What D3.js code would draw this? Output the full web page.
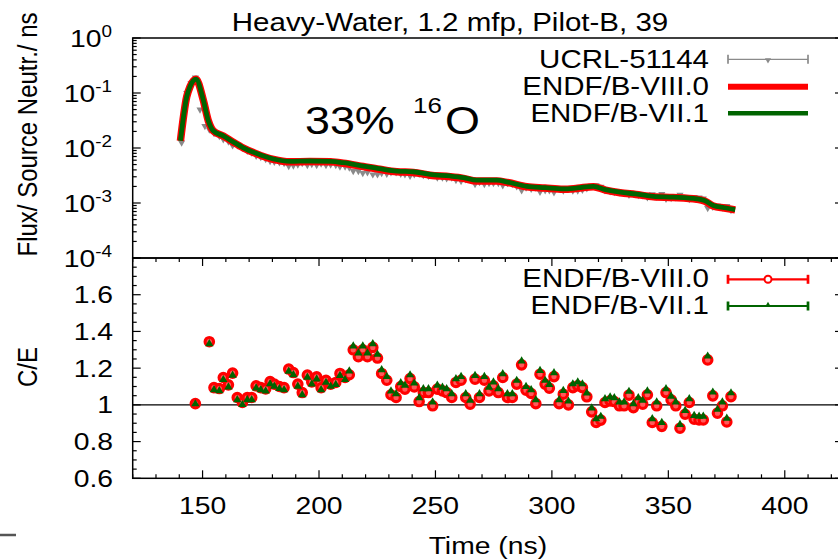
<!DOCTYPE html>
<html>
<head>
<meta charset="utf-8">
<script src="https://cdn.jsdelivr.net/npm/d3@7"></script>
<style>
  body { margin: 0; background: #fff; }
  svg { display: block; }
  text { font-family: "Liberation Sans", Arial, Helvetica, sans-serif; fill: #000; }
</style>
</head>
<body>
<svg id="chart" width="838" height="560"></svg>
<script>
// ---- calculated flux per source neutron (ns^-1) ----
const calcTime = [140.5,143.2,144.6,147.2,150.3,152.5,154.6,158.9,163.0,167.5,173.0,180.4,187.6,196.0,205.0,210.4,219.0,226.0,233.4,240.5,247.7,256.3,262.0,267.7,276.3,281.0,289.2,297.0,304.9,311.0,317.8,323.0,329.3,336.0,343.6,352.0,362.2,365.5,369.3,374.0,378.7];
const fluxVIII = [0.0135,0.0857,0.130,0.177,0.0746,0.031,0.0205,0.0165,0.0129,0.0100,0.0079,0.0062,0.0056,0.0057,0.0056,0.0053,0.0046,0.0041,0.0037,0.0036,0.0032,0.0030,0.0028,0.0025,0.0025,0.00236,0.00198,0.00187,0.00177,0.00185,0.00198,0.00172,0.00154,0.00143,0.00130,0.00126,0.00117,0.00109,0.00088,0.00081,0.00075];
const fluxVII  = [0.0135,0.0860,0.131,0.178,0.0750,0.031,0.0206,0.0166,0.0130,0.0101,0.0080,0.0063,0.0057,0.0058,0.0057,0.0054,0.0047,0.0042,0.0038,0.0037,0.0033,0.0031,0.0029,0.0026,0.0026,0.00240,0.00201,0.00190,0.00180,0.00188,0.00201,0.00175,0.00157,0.00146,0.00132,0.00128,0.00119,0.00111,0.00090,0.00082,0.00076];

// ---- UCRL-51144 measurement ----
const expTime = [141.0,143.2,145.0,146.9,148.9,151.0,152.9,154.9,157.2,158.9,161.1,162.9,164.9,167.1,169.2,171.1,173.0,175.0,177.1,179.0,180.8,183.0,185.0,187.0,189.0,190.9,192.8,195.0,196.9,199.0,200.9,203.0,205.0,207.2,209.0,211.2,213.0,214.7,216.9,218.8,220.8,223.1,225.1,226.9,229.1,230.9,233.1,235.1,236.9,239.1,240.9,243.0,244.8,247.0,248.8,250.8,253.0,254.8,257.0,258.8,261.0,263.0,264.9,267.0,268.9,271.0,273.0,274.9,277.0,278.9,280.9,283.0,284.9,287.0,288.9,291.1,293.1,294.9,297.1,298.9,300.9,303.1,304.9,307.1,309.0,311.1,313.1,315.0,317.1,319.0,321.0,322.8,325.0,326.8,329.0,331.0,333.1,335.0,337.1,339.0,341.0,343.1,345.0,347.2,349.0,351.2,353.2,355.0,357.2,359.0,361.1,363.2,365.0,366.9,369.1,371.1,373.2,375.1,376.9];
const expFlux = [0.0125,0.100,0.150,0.190,0.050,0.025,0.0216,
  0.0187,0.0165,0.0144,0.0131,0.0111,0.0112,0.0101,0.0089,0.0082,0.0072,
  0.0068,0.0063,0.0058,0.0056,0.0055,0.0053,0.0047,0.0048,0.0050,0.0053,
  0.0049,0.0051,0.0049,0.0052,0.0049,0.0050,0.0049,0.0046,0.0046,0.0044,
  0.0038,0.0038,0.0035,0.0036,0.0033,0.0033,0.0035,0.0034,0.0036,0.0036,
  0.0034,0.0033,0.0031,0.0033,0.0034,0.0032,0.0031,0.0032,0.0029,0.0029,
  0.0028,0.0029,0.0026,0.0025,0.0027,0.0027,0.0022,0.0024,0.0022,0.0023,
  0.0023,0.0023,0.0021,0.0023,0.0022,0.0020,0.0017,0.0019,0.0018,0.0019,
  0.0016,0.0017,0.0017,0.00156,0.0018,0.00167,0.0018,0.00167,0.00168,0.00174,
  0.00185,0.00205,0.0021,0.00196,0.0017,0.00162,0.00157,0.00156,0.00151,0.0014,
  0.00146,0.00139,0.00137,0.00127,0.00144,0.0013,0.00145,0.00119,0.00123,0.00126,
  0.00141,0.00128,0.00118,0.00128,0.00125,0.0012,0.00081,0.00085,0.00089,0.00082,
  0.00088,0.00074];
const expRelErr = 0.05;

// ---- C/E ratios ----
const ceTime = [146.9,152.9,154.9,157.2,158.9,161.1,162.9,164.9,167.1,169.2,
  171.1,173.0,175.0,177.1,179.0,180.8,183.0,185.0,187.0,189.0,
  190.9,192.8,195.0,196.9,199.0,200.9,203.0,205.0,207.2,209.0,
  211.2,213.0,214.7,216.9,218.8,220.8,223.1,225.1,226.9,229.1,
  230.9,233.1,235.1,236.9,239.1,240.9,243.0,244.8,247.0,248.8,
  250.8,253.0,254.8,257.0,258.8,261.0,263.0,264.9,267.0,268.9,
  271.0,273.0,274.9,277.0,278.9,280.9,283.0,284.9,287.0,288.9,
  291.1,293.1,294.9,297.1,298.9,300.9,303.1,304.9,307.1,309.0,
  311.1,313.1,315.0,317.1,319.0,321.0,322.8,325.0,326.8,329.0,
  331.0,333.1,335.0,337.1,339.0,341.0,343.1,345.0,347.2,349.0,
  351.2,353.2,355.0,357.2,359.0,361.1,363.2,365.0,366.9,369.1,
  371.1,373.2,375.1,376.9];
const ceVIII = [1.007,1.344,1.094,1.089,1.149,1.109,1.173,1.040,1.013,1.040,
  1.040,1.104,1.094,1.087,1.127,1.113,1.100,1.094,1.195,1.176,
  1.113,1.067,1.162,1.125,1.153,1.094,1.134,1.113,1.122,1.171,
  1.149,1.164,1.300,1.262,1.300,1.262,1.313,1.255,1.171,1.134,
  1.055,1.040,1.100,1.086,1.143,1.098,1.018,1.067,1.067,0.995,
  1.086,1.076,1.067,1.040,1.122,1.134,1.040,1.004,1.140,1.040,
  1.134,1.076,1.104,1.067,1.149,1.040,1.040,1.113,1.218,1.080,
  1.062,1.007,1.167,1.113,1.091,1.154,1.007,1.058,1.000,1.094,
  1.104,1.094,1.044,0.962,0.904,0.917,1.013,1.022,1.018,0.995,
  0.995,1.053,0.985,1.018,1.004,1.055,0.904,0.995,0.883,1.067,
  1.027,0.995,0.873,0.949,1.013,0.922,0.918,0.918,1.245,1.049,
  0.955,0.995,0.907,1.045];
const ceVII = [1.005,1.332,1.082,1.077,1.137,1.097,1.161,1.028,1.001,1.028,
  1.028,1.092,1.082,1.075,1.115,1.101,1.088,1.082,1.183,1.164,
  1.101,1.055,1.150,1.113,1.141,1.082,1.122,1.101,1.110,1.159,
  1.137,1.184,1.320,1.282,1.320,1.282,1.333,1.275,1.191,1.154,
  1.075,1.060,1.120,1.106,1.163,1.118,1.038,1.087,1.087,1.015,
  1.106,1.096,1.087,1.060,1.142,1.154,1.060,1.024,1.160,1.060,
  1.154,1.096,1.124,1.087,1.169,1.060,1.060,1.133,1.238,1.100,
  1.082,1.027,1.187,1.133,1.111,1.174,1.027,1.078,1.020,1.114,
  1.124,1.114,1.064,0.982,0.924,0.937,1.033,1.042,1.038,1.015,
  1.015,1.073,1.005,1.038,1.024,1.075,0.924,1.015,0.903,1.087,
  1.047,1.015,0.893,0.969,1.033,0.942,0.938,0.938,1.265,1.069,
  0.975,1.015,0.927,1.065];

// ---- axis ticks ----
const xMajor = [150,200,250,300,350,400];
const xMinorStep = 10;
const fluxDecades = [-4,-3,-2,-1,0];
const ceMajor = [0.6,0.8,1.0,1.2,1.4,1.6];
const ceLabels = ["0.6","0.8","1","1.2","1.4","1.6"];

const titleText = "Heavy-Water, 1.2 mfp, Pilot-B, 39";
const seriesNames = ["UCRL-51144","ENDF/B-VIII.0","ENDF/B-VII.1"];

// ---- layout ----
const L = 132.7, R = 843, T = 38, MID = 258, B = 478.3;
const SX = 1.18;           // horizontal glyph stretch
const RED = "#ff0000", GREEN = "#006400", GRAY = "#8a8a8a";

const svg = d3.select("#chart");
const x = d3.scaleLinear().domain([120, 425]).range([L, R]);
const yF = d3.scaleLog().domain([1e-4, 1]).range([MID, T]);
const yC = d3.scaleLinear().domain([0.6, 1.8]).range([B, MID]);

function label(g, px, py, str, size, anchor) {
  return g.append("text")
    .attr("transform", `translate(${px},${py}) scale(${SX},1)`)
    .attr("font-size", size)
    .attr("text-anchor", anchor || "start")
    .text(str);
}
function tick(g, x1, y1, x2, y2) {
  g.append("line").attr("x1", x1).attr("y1", y1).attr("x2", x2).attr("y2", y2)
    .attr("stroke", "#000").attr("stroke-width", 1.2);
}

const axes = svg.append("g");

// top panel: log ticks on left and right
fluxDecades.forEach(k => {
  const v = Math.pow(10, k);
  tick(axes, L, yF(v), L + 8, yF(v));
  tick(axes, R, yF(v), R - 8, yF(v));
  if (k < 0) {
    for (let m = 2; m <= 9; m++) {
      const yy = yF(m * v);
      tick(axes, L, yy, L + 4, yy);
      tick(axes, R, yy, R - 4, yy);
    }
  }
  const t = axes.append("text")
    .attr("transform", `translate(112,${yF(v) + 8.5}) scale(${SX},1)`)
    .attr("font-size", 24).attr("text-anchor", "end");
  t.append("tspan").text("10");
  t.append("tspan").attr("font-size", 16).attr("dy", -10).text(String(k));
});

// bottom panel: C/E ticks
d3.range(0.6, 1.8001, 0.05).forEach(v => {
  const major = Math.abs(Math.round(v * 5) - v * 5) < 1e-6;
  const len = major ? 8 : 4;
  tick(axes, L, yC(v), L + len, yC(v));
  tick(axes, R, yC(v), R - len, yC(v));
});
ceMajor.forEach((v, i) => label(axes, 113, yC(v) + 8.5, ceLabels[i], 24, "end"));

// time ticks on bottom panel (bottom and top edges)
d3.range(120, 425.001, xMinorStep).forEach(v => {
  const major = xMajor.includes(v);
  const len = major ? 8 : 4;
  tick(axes, x(v), B, x(v), B - len);
  tick(axes, x(v), MID, x(v), MID + len);
});
xMajor.forEach(v => label(axes, x(v), 514, String(v), 24, "middle"));

// C/E = 1 reference
axes.append("line").attr("x1", L).attr("x2", R).attr("y1", yC(1)).attr("y2", yC(1))
  .attr("stroke", "#000").attr("stroke-width", 1.2);

// ---- flux panel data ----
const fluxG = svg.append("g");
const expPts = expTime.map((t, i) => ({ t, v: expFlux[i] }));
fluxG.selectAll("line.err").data(expPts).enter().append("line")
  .attr("x1", d => x(d.t)).attr("x2", d => x(d.t))
  .attr("y1", d => yF(d.v * (1 + expRelErr))).attr("y2", d => yF(d.v * (1 - expRelErr)))
  .attr("stroke", GRAY).attr("stroke-width", 1.2);
const triDown = d3.symbol(d3.symbolTriangle).size(22);
fluxG.selectAll("path.exp").data(expPts).enter().append("path")
  .attr("d", triDown)
  .attr("transform", d => `translate(${x(d.t)},${yF(d.v)}) rotate(180)`)
  .attr("fill", GRAY);

const fluxLine = (vals) => d3.line()
  .x((d, i) => x(calcTime[i])).y(d => yF(d))
  .curve(d3.curveMonotoneX)(vals);
fluxG.append("path").attr("d", fluxLine(fluxVIII))
  .attr("fill", "none").attr("stroke", RED).attr("stroke-width", 7.5).attr("stroke-linejoin", "round");
fluxG.append("path").attr("d", fluxLine(fluxVII))
  .attr("fill", "none").attr("stroke", GREEN).attr("stroke-width", 4.8).attr("stroke-linejoin", "round");

// ---- C/E panel data ----
const ceG = svg.append("g");
ceG.selectAll("circle").data(ceTime).enter().append("circle")
  .attr("cx", d => x(d)).attr("cy", (d, i) => yC(ceVIII[i])).attr("r", 4.2)
  .attr("fill", "#ff5a5a").attr("stroke", RED).attr("stroke-width", 3.2);
const triUp = d3.symbol(d3.symbolTriangle).size(30);
ceG.selectAll("path").data(ceTime).enter().append("path")
  .attr("d", triUp)
  .attr("transform", (d, i) => `translate(${x(d)},${yC(ceVII[i])})`)
  .attr("fill", GREEN);

// ---- frames ----
svg.append("rect").attr("x", L).attr("y", T).attr("width", R - L).attr("height", MID - T)
  .attr("fill", "none").attr("stroke", "#000").attr("stroke-width", 1.5);
svg.append("rect").attr("x", L).attr("y", MID).attr("width", R - L).attr("height", B - MID)
  .attr("fill", "none").attr("stroke", "#000").attr("stroke-width", 1.5);

// ---- legends ----
const leg = svg.append("g");
const sx1 = 728, sx2 = 808, smid = 768;
function errSample(yy, color, w) {
  leg.append("line").attr("x1", sx1).attr("x2", sx2).attr("y1", yy).attr("y2", yy)
    .attr("stroke", color).attr("stroke-width", w);
  [sx1, sx2].forEach(xx => leg.append("line").attr("x1", xx).attr("x2", xx)
    .attr("y1", yy - 4.5).attr("y2", yy + 4.5).attr("stroke", color).attr("stroke-width", w + 0.5));
}
// flux legend
label(leg, 709, 68, seriesNames[0], 25, "end");
errSample(59.3, GRAY, 1.2);
leg.append("path").attr("d", d3.symbol(d3.symbolTriangle).size(16)())
  .attr("transform", `translate(${smid},60) rotate(180)`).attr("fill", GRAY);
label(leg, 709, 95, seriesNames[1], 25, "end");
leg.append("line").attr("x1", sx1).attr("x2", sx2).attr("y1", 86.7).attr("y2", 86.7)
  .attr("stroke", RED).attr("stroke-width", 6);
label(leg, 709, 121.7, seriesNames[2], 25, "end");
leg.append("line").attr("x1", sx1).attr("x2", sx2).attr("y1", 113.3).attr("y2", 113.3)
  .attr("stroke", GREEN).attr("stroke-width", 4.5);

// C/E legend
label(leg, 709, 287, seriesNames[1], 25, "end");
errSample(279.3, RED, 2.2);
leg.append("circle").attr("cx", smid).attr("cy", 279.3).attr("r", 3.5)
  .attr("fill", "#fff").attr("stroke", RED).attr("stroke-width", 2);
label(leg, 709, 314, seriesNames[2], 25, "end");
errSample(306, GREEN, 2.2);
leg.append("path").attr("d", d3.symbol(d3.symbolTriangle).size(14)())
  .attr("transform", `translate(${smid},305)`).attr("fill", GREEN);

// ---- annotation ----
label(svg, 305, 134, "33%", 38, "start");
label(svg, 413, 113, "16", 22, "start");
label(svg, 445, 134, "O", 38, "start");

// ---- titles ----
label(svg, 450, 31, titleText, 25, "middle");
label(svg, (L + R) / 2, 554, "Time (ns)", 24, "middle");
svg.append("text")
  .attr("transform", `translate(37,134.5) scale(${SX},1) rotate(-90)`)
  .attr("font-size", 24).attr("text-anchor", "middle")
  .text("Flux/ Source Neutr./ ns");
svg.append("text")
  .attr("transform", `translate(37,367) scale(${SX},1) rotate(-90)`)
  .attr("font-size", 24).attr("text-anchor", "middle")
  .text("C/E");

// small stray key mark at the lower left corner
svg.append("line").attr("x1", 0).attr("x2", 16).attr("y1", 535).attr("y2", 535)
  .attr("stroke", "#555").attr("stroke-width", 2.5);
</script>
</body>
</html>
